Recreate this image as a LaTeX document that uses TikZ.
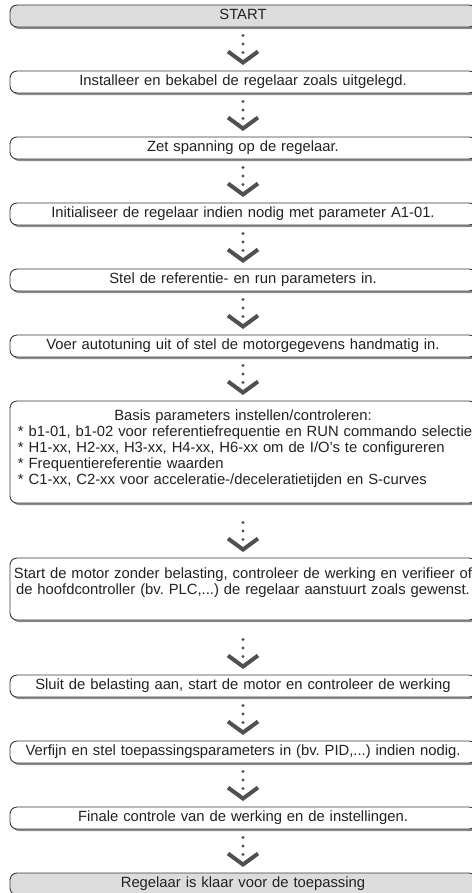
\documentclass[tikz,border=0pt]{standalone}
\usepackage{fontspec}
\setmainfont{Liberation Sans}
\usepackage{xcolor}
\usepackage{tikz}
\usetikzlibrary{
    arrows.meta,
    positioning,
    shadows,
    calc
}
\definecolor{boxline}{HTML}{3A3A3A}
\definecolor{termfill}{HTML}{DCDCDC}
\definecolor{shadowgray}{HTML}{8C8C8C}
\definecolor{arrowgray}{HTML}{505050}
\definecolor{flowtext}{HTML}{222222}
\newcommand{\flowfont}{\fontsize{14.8bp}{16bp}\selectfont\frenchspacing}
\tikzset{
    flowbox/.style={
        rectangle, draw=boxline, fill=white, line width=0.9bp,
        rounded corners=7bp, minimum width=466bp, minimum height=22bp,
        text width=450bp, inner xsep=8bp, inner ysep=2bp, outer sep=0pt,
        align=center, font=\flowfont, text=flowtext,
        text height=10.7bp, text depth=3.1bp,
        drop shadow={shadow xshift=2bp, shadow yshift=-2bp,
                     fill=shadowgray, opacity=1}
    },
    endbox/.style={
        flowbox, fill=termfill
    },
    flowblock/.style={
        rectangle, draw=boxline, fill=white, line width=0.9bp,
        rounded corners=7bp, minimum width=466bp,
        text width=450bp, inner xsep=8bp, inner ysep=4bp, outer sep=0pt,
        align=#1, font=\flowfont, text=flowtext,
        drop shadow={shadow xshift=2bp, shadow yshift=-2bp,
                     fill=shadowgray, opacity=1}
    },
    flowblock/.default={center},
    flowconn/.style={
        draw=arrowgray, line width=3.2bp, line cap=round,
        dash pattern=on 0bp off 8.5bp,
        -{Straight Barb[length=11bp, width=30bp, line width=4bp 0]},
        shorten >=6bp,
        to path={($(\tikztotarget.north)+(0,35.5)$) -- (\tikztotarget.north)}
    },
}

\begin{document}
\begin{tikzpicture}[x=1bp, y=1bp]
    \useasboundingbox (0,0) rectangle (472,-893);
    \clip (0,0) rectangle (472,-893);

    \node[endbox] (start) at (243,-16) {START};
    \node[flowbox, below=44bp of start] (inst) {Installeer en bekabel de regelaar zoals uitgelegd.};
    \node[flowbox, below=44bp of inst] (zet) {Zet spanning op de regelaar.};
    \node[flowbox, below=44bp of zet] (init) {Initialiseer de regelaar indien nodig met parameter A1-01.};
    \node[flowbox, below=44bp of init] (stel) {Stel de referentie- en run parameters in.};
    \node[flowbox, below=44bp of stel] (voer) {Voer autotuning uit of stel de motorgegevens handmatig in.};

    \node[flowblock=left, minimum height=102bp, below=44bp of voer] (basis) {%
        \makebox[450bp]{Basis parameters instellen/controleren:}\\
        \mbox{* b1-01, b1-02 voor referentiefrequentie en RUN commando selectie}\\
        \mbox{* H1-xx, H2-xx, H3-xx, H4-xx, H6-xx om de I/O’s te configureren}\\
        \mbox{* Frequentiereferentie waarden}\\
        \mbox{* C1-xx, C2-xx voor acceleratie-/deceleratietijden en S-curves}\\[-6bp]
        \mbox{}};

    \node[flowblock, minimum height=62bp, text width=460bp, inner xsep=3bp,
          below=55bp of basis] (proef) {%
        \mbox{Start de motor zonder belasting, controleer de werking en verifieer of}\\
        \mbox{de hoofdcontroller (bv. PLC,...) de regelaar aanstuurt zoals gewenst.}\\
        \mbox{}};

    \node[flowbox, below=55bp of proef] (sluit) {Sluit de belasting aan, start de motor en controleer de werking};
    \node[flowbox, below=44bp of sluit] (verfijn) {Verfijn en stel toepassingsparameters in (bv. PID,...) indien nodig.};
    \node[flowbox, below=44bp of verfijn] (finale) {Finale controle van de werking en de instellingen.};
    \node[endbox, below=44bp of finale] (klaar) {Regelaar is klaar voor de toepassing};

    % dotted step arrows
    \foreach \from/\to in {start/inst, inst/zet, zet/init, init/stel, stel/voer,
                           voer/basis, basis/proef, proef/sluit, sluit/verfijn,
                           verfijn/finale, finale/klaar}
        \draw[flowconn] (\from) to (\to);
\end{tikzpicture}
\end{document}
